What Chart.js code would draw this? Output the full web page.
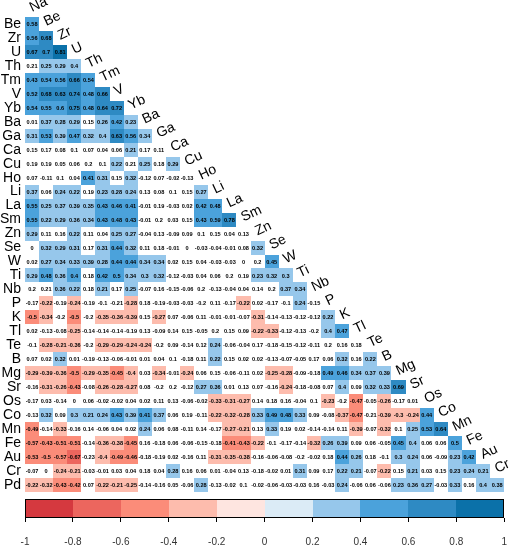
<!DOCTYPE html>
<html>
<head>
<meta charset="utf-8">
<title>Correlation matrix</title>
<script src="https://cdn.jsdelivr.net/npm/chart.js@4.4.1/dist/chart.umd.min.js"></script>
<style>
  html, body { margin: 0; padding: 0; background: #fff; }
  #wrap { width: 521px; height: 550px; }
</style>
</head>
<body>
<div id="wrap"><canvas id="corr"></canvas></div>
<script>
// columnas (etiquetas en la diagonal) y filas (etiquetas a la izquierda)
const colNames = ['Na','Be','Zr','U','Th','Tm','V','Yb','Ba','Ga','Ca','Cu','Ho','Li','La','Sm','Zn',
  'Se','W','Ti','Nb','P','K','Tl','Te','B','Mg','Sr','Os','Co','Mn','Fe','Au','Cr'];
const rowNames = ['Be','Zr','U','Th','Tm','V','Yb','Ba','Ga','Ca','Cu','Ho','Li','La','Sm','Zn','Se',
  'W','Ti','Nb','P','K','Tl','Te','B','Mg','Sr','Os','Co','Mn','Fe','Au','Cr','Pd'];

// correlaciones, una fila por elemento (triangulo inferior)
const r_Be = [0.58];
const r_Zr = [0.56, 0.68];
const r_U  = [0.67, 0.7, 0.81];
const r_Th = [0.21, 0.25, 0.29, 0.396];
const r_Tm = [0.43, 0.54, 0.56, 0.66, 0.54];
const r_V  = [0.52, 0.68, 0.63, 0.74, 0.48, 0.66];
const r_Yb = [0.54, 0.55, 0.596, 0.75, 0.48, 0.64, 0.72];
const r_Ba = [0.01, 0.37, 0.28, 0.29, 0.15, 0.26, 0.42, 0.23];
const r_Ga = [0.31, 0.53, 0.39, 0.47, 0.32, 0.396, 0.63, 0.56, 0.34];
const r_Ca = [0.15, 0.17, 0.08, 0.1, 0.07, 0.04, 0.06, 0.21, 0.17, 0.11];
const r_Cu = [0.19, 0.19, 0.05, 0.06, 0.2, 0.1, 0.22, 0.21, 0.25, 0.18, 0.29];
const r_Ho = [0.07, -0.11, 0.1, 0.04, 0.41, 0.31, 0.15, 0.32, -0.12, 0.07, -0.02, -0.13];
const r_Li = [0.37, 0.06, 0.24, 0.22, 0.19, 0.23, 0.28, 0.24, 0.13, 0.08, 0.1, 0.15, 0.27];
const r_La = [0.55, 0.25, 0.37, 0.39, 0.35, 0.43, 0.46, 0.41, -0.01, 0.19, -0.03, 0.02, 0.42, 0.48];
const r_Sm = [0.55, 0.22, 0.29, 0.36, 0.34, 0.43, 0.48, 0.43, -0.01, 0.2, 0.03, 0.15, 0.43, 0.59, 0.78];
const r_Zn = [0.29, 0.11, 0.16, 0.22, 0.11, 0.04, 0.25, 0.27, -0.04, 0.13, -0.09, 0.09, 0.1, 0.15, 0.04, 0.13];
const r_Se = [0, 0.32, 0.29, 0.31, 0.17, 0.31, 0.44, 0.32, 0.11, 0.18, -0.01, 0, -0.03, -0.04, -0.01, 0.08, 0.32];
const r_W  = [0.02, 0.27, 0.34, 0.33, 0.39, 0.28, 0.44, 0.44, 0.34, 0.34, 0.02, 0.15, 0.04, -0.03, -0.03, 0, 0.2, 0.45];
const r_Ti = [0.29, 0.48, 0.36, 0.404, 0.18, 0.42, 0.5, 0.34, 0.3, 0.32, -0.12, -0.03, 0.04, 0.06, 0.2, 0.19, 0.23, 0.32, 0.3];
const r_Nb = [0.2, 0.21, 0.36, 0.22, 0.18, 0.21, 0.17, 0.25, -0.07, 0.16, -0.15, -0.06, 0.2, -0.13, -0.04, 0.04, 0.14, 0.2, 0.37, 0.34];
const r_P  = [-0.17, -0.22, -0.19, -0.24, -0.19, -0.1, -0.21, -0.28, 0.18, -0.19, -0.03, -0.03, -0.2, 0.11, -0.17, -0.22, 0.02, -0.17, -0.1, 0.24, -0.15];
const r_K  = [-0.5, -0.34, -0.2, -0.5, -0.2, -0.35, -0.36, -0.39, 0.15, -0.27, 0.07, -0.06, 0.11, -0.01, -0.01, -0.07, -0.31, -0.14, -0.13, -0.12, -0.12, 0.22];
const r_Tl = [0.02, -0.13, -0.08, -0.25, -0.14, -0.14, -0.14, -0.19, 0.13, -0.09, 0.14, 0.15, -0.05, 0.2, 0.15, 0.09, -0.22, -0.33, -0.12, -0.13, -0.2, 0.396, 0.47];
const r_Te = [-0.1, -0.28, -0.21, -0.36, -0.2, -0.29, -0.29, -0.24, -0.24, -0.2, 0.09, -0.14, 0.12, 0.24, -0.06, -0.04, 0.17, -0.18, -0.15, -0.12, -0.11, 0.2, 0.16, 0.18];
const r_B  = [0.07, 0.02, 0.32, 0.01, -0.19, -0.13, -0.06, -0.01, 0.01, 0.04, 0.1, -0.18, 0.11, 0.22, 0.15, 0.02, 0.02, -0.13, -0.07, -0.05, 0.17, 0.06, 0.32, 0.16, 0.22];
const r_Mg = [-0.29, -0.39, -0.36, -0.5, -0.29, -0.35, -0.45, -0.396, 0.03, -0.34, -0.01, -0.24, 0.06, 0.15, -0.06, -0.11, 0.02, -0.25, -0.28, -0.09, -0.18, 0.49, 0.46, 0.34, 0.37, 0.39];
const r_Sr = [-0.16, -0.31, -0.26, -0.43, -0.08, -0.26, -0.28, -0.27, 0.08, -0.2, 0.2, -0.12, 0.27, 0.36, 0.01, 0.13, 0.07, -0.16, -0.24, -0.18, -0.08, 0.07, 0.396, 0.09, 0.32, 0.33, 0.69];
const r_Os = [-0.17, 0.03, -0.14, 0, 0.06, -0.02, -0.02, 0.04, 0.02, 0.11, 0.13, -0.06, -0.02, -0.33, -0.31, -0.27, 0.14, 0.18, 0.16, -0.04, 0.1, -0.23, -0.2, -0.47, -0.05, -0.26, -0.17, 0.01];
const r_Co = [-0.13, 0.32, 0.09, 0.3, 0.21, 0.24, 0.43, 0.39, 0.41, 0.37, 0.06, 0.19, -0.11, -0.22, -0.32, -0.28, 0.33, 0.49, 0.48, 0.33, 0.09, -0.08, -0.37, -0.47, -0.21, -0.39, -0.3, -0.24, 0.44];
const r_Mn = [-0.49, -0.14, -0.33, -0.16, 0.14, -0.06, 0.04, 0.02, 0.24, 0.06, 0.08, -0.11, 0.14, -0.17, -0.27, -0.21, 0.13, 0.33, 0.19, 0.02, -0.14, -0.14, 0.11, -0.39, -0.07, -0.32, 0.1, 0.25, 0.53, 0.64];
const r_Fe = [-0.57, -0.43, -0.51, -0.51, -0.14, -0.36, -0.38, -0.45, 0.16, -0.18, 0.06, -0.06, -0.15, -0.18, -0.41, -0.43, -0.22, -0.1, -0.17, -0.14, -0.32, 0.26, 0.39, 0.09, 0.06, -0.05, 0.45, 0.396, 0.06, 0.06, 0.5];
const r_Au = [-0.53, -0.5, -0.57, -0.67, -0.23, -0.396, -0.49, -0.46, -0.18, -0.19, 0.02, -0.16, 0.11, -0.31, -0.35, -0.38, -0.16, -0.06, -0.08, -0.2, -0.02, 0.18, 0.44, 0.26, 0.18, -0.1, 0.3, 0.24, 0.06, -0.09, 0.23, 0.42];
const r_Cr = [-0.07, 0, -0.24, -0.21, -0.03, -0.01, 0.03, 0.04, 0.18, 0.04, 0.28, 0.16, 0.06, 0.01, -0.04, 0.13, -0.18, -0.02, 0.01, 0.31, 0.09, 0.17, 0.22, 0.21, -0.07, -0.22, 0.15, 0.21, 0.03, 0.15, 0.23, 0.24, 0.21];
const r_Pd = [-0.22, -0.32, -0.43, -0.42, 0.07, -0.22, -0.21, -0.25, -0.14, -0.16, 0.05, -0.06, 0.28, -0.13, -0.02, 0.1, -0.02, -0.06, -0.03, -0.03, 0.16, -0.03, 0.24, -0.06, 0.06, -0.06, 0.23, 0.36, 0.27, -0.03, 0.33, 0.16, 0.396, 0.38];

const rowValues = [r_Be, r_Zr, r_U, r_Th, r_Tm, r_V, r_Yb, r_Ba, r_Ga, r_Ca, r_Cu, r_Ho, r_Li, r_La, r_Sm,
  r_Zn, r_Se, r_W, r_Ti, r_Nb, r_P, r_K, r_Tl, r_Te, r_B, r_Mg, r_Sr, r_Os, r_Co, r_Mn, r_Fe, r_Au, r_Cr, r_Pd];

// celdas que quedan en blanco (no significativas) aunque |r| >= 0.21
const blankCells = [['Th','Na'], ['Cu','Yb'], ['Nb','Be'], ['P','V'], ['Co','Te'], ['Au','Th']];

// escala de color y marcas de la barra
const cbTicks = [-1, -0.8, -0.6, -0.4, -0.2, 0, 0.2, 0.4, 0.6, 0.8, 1];
const binColors = ['#d5393f', '#ec665e', '#fb8c79', '#fdbcad', '#fee5e0',
                   '#dbebf6', '#96c7eb', '#4ba2db', '#2e8ac3', '#0b71a9'];
const SIG = 0.21;

const FONT = '"Liberation Sans", Arial, Helvetica, sans-serif';
const LABEL_ANGLE = 25 * Math.PI / 180;
const CB_TOP = 34.0;
const Y_MAX = 35.36;

const cells = [];
rowValues.forEach((vals, r) => {
  vals.forEach((v, c) => cells.push({ x: c, y: r, v: v }));
});

function cellColor(cell) {
  const blank = blankCells.some(b => b[0] === rowNames[cell.y] && b[1] === colNames[cell.x]);
  if (blank || Math.abs(cell.v) < SIG - 1e-9) return '#ffffff';
  return binColors[Math.min(9, Math.floor((cell.v + 1) * 5 + 1e-9))];
}

const corrPlugin = {
  id: 'corrCells',
  afterDatasetsDraw(chart) {
    const ctx = chart.ctx;
    const xs = chart.scales.x, ys = chart.scales.y, cb = chart.scales.cb;
    ctx.save();

    // celdas
    cells.forEach(cell => {
      const x0 = Math.round(xs.getPixelForValue(cell.x - 0.5));
      const x1 = Math.round(xs.getPixelForValue(cell.x + 0.5));
      const y0 = Math.round(ys.getPixelForValue(cell.y - 0.5));
      const y1 = Math.round(ys.getPixelForValue(cell.y + 0.5));
      ctx.fillStyle = cellColor(cell);
      ctx.fillRect(x0, y0, x1 - x0, y1 - y0);
    });

    // numeros
    ctx.fillStyle = '#000';
    ctx.font = 'bold 5.6px ' + FONT;
    ctx.textAlign = 'center';
    ctx.textBaseline = 'middle';
    cells.forEach(cell => {
      const txt = String(Math.round(cell.v * 100) / 100);
      ctx.fillText(txt, xs.getPixelForValue(cell.x), ys.getPixelForValue(cell.y) + 0.5);
    });

    // etiquetas en la diagonal
    ctx.font = '14px ' + FONT;
    ctx.textAlign = 'left';
    ctx.textBaseline = 'alphabetic';
    colNames.forEach((name, c) => {
      ctx.save();
      ctx.translate(xs.getPixelForValue(c), ys.getPixelForValue(c - 1) + 2);
      ctx.rotate(-LABEL_ANGLE);
      ctx.fillText(name, 0, 0);
      ctx.restore();
    });

    // barra de color
    const top = Math.round(ys.getPixelForValue(CB_TOP));
    const bottom = Math.round(ys.getPixelForValue(Y_MAX));
    for (let i = 0; i < binColors.length; i++) {
      const a = Math.round(cb.getPixelForValue(cbTicks[i]));
      const b = Math.round(cb.getPixelForValue(cbTicks[i + 1]));
      ctx.fillStyle = binColors[i];
      ctx.fillRect(a, top, b - a, bottom - top);
    }
    ctx.strokeStyle = '#000';
    ctx.lineWidth = 1;
    const l = Math.round(cb.getPixelForValue(-1)), r = Math.round(cb.getPixelForValue(1));
    ctx.strokeRect(l + 0.5, top + 0.5, r - l - 1, bottom - top - 1);

    ctx.restore();
  }
};

new Chart(document.getElementById('corr'), {
  type: 'scatter',
  data: {
    datasets: [{ data: cells, pointRadius: 0, pointHoverRadius: 0 }]
  },
  options: {
    responsive: true,
    maintainAspectRatio: false,
    animation: false,
    layout: { padding: { left: 0, right: 12, top: 17, bottom: 0 } },
    plugins: { legend: { display: false }, tooltip: { enabled: false } },
    scales: {
      x: { type: 'linear', min: -0.5, max: 33.5, display: false },
      y: {
        type: 'linear', reverse: true, min: -0.5, max: Y_MAX,
        afterBuildTicks: s => { s.ticks = rowNames.map((n, i) => ({ value: i })); },
        afterFit: s => { s.width = 25; },
        grid: { display: false, drawTicks: false },
        border: { display: false },
        ticks: {
          autoSkip: false, padding: 4, color: '#000',
          font: { family: FONT, size: 14 },
          callback: v => rowNames[v]
        }
      },
      cb: {
        type: 'linear', axis: 'x', position: 'bottom', min: -1, max: 1,
        afterBuildTicks: s => { s.ticks = cbTicks.map(v => ({ value: v })); },
        afterFit: s => { s.height = 32; },
        grid: { drawOnChartArea: false, drawTicks: true, tickLength: 4, color: '#000' },
        border: { display: false },
        ticks: {
          autoSkip: false, maxRotation: 0, padding: 14, color: '#333',
          font: { family: FONT, size: 10 },
          callback: v => String(v)
        }
      }
    }
  },
  plugins: [corrPlugin]
});
</script>
</body>
</html>
